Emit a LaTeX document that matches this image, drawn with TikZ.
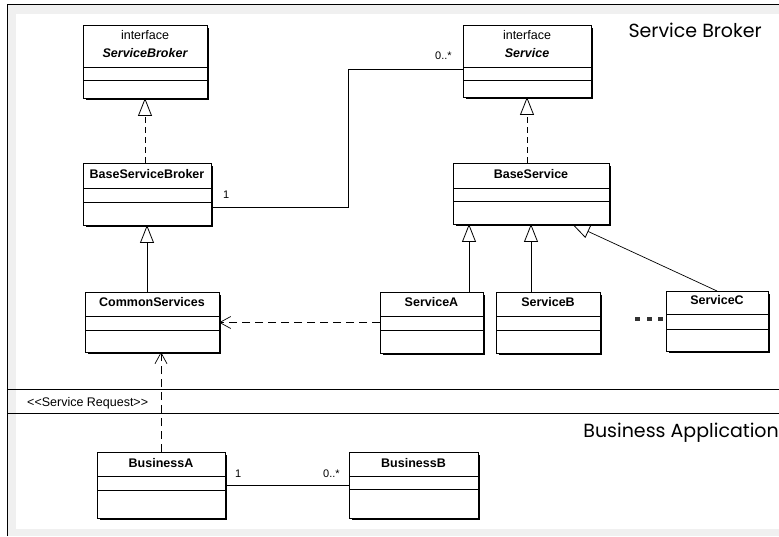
\documentclass[tikz,border=0pt]{standalone}
\usepackage{fontspec}
\setmainfont{Liberation Sans}
\newfontfamily\titlefont{Poppins}
\usetikzlibrary{arrows.meta,calc}

\newcommand\umlclass[8]{% #1 name, #2 x1, #3 y1, #4 x2, #5 y2, #6 div1, #7 div2, #8 title
  \node[umlbox, minimum width={(#4-#2)*1pt}, minimum height={(#5-#3)*1pt}] (#1) at ({(#2+#4)/2},{(#3+#5)/2}) {};
  \draw[shadowline] ($(#1.north east)+(1.2,3)$) -- ($(#1.south east)+(1.2,1.2)$) -- ($(#1.south west)+(3,1.2)$);
  \draw[divline] (#2,#6) -- (#4,#6);
  \draw[divline] (#2,#7) -- (#4,#7);
  \node[boxtext, anchor=base] (#1-title) at ({(#2+#4)/2},#6-9) {#8};
}

\begin{document}
\begin{tikzpicture}[x=1pt,y=-1pt,
  umlbox/.style={draw, line width=0.7pt, inner sep=0pt, outer sep=0pt, fill=white},
  divline/.style={line width=0.7pt},
  shadowline/.style={line width=1.3pt},
  boxtext/.style={inner sep=0pt, font=\fontsize{12.5}{14}\selectfont\bfseries},
  plaintext/.style={inner sep=0pt, font=\fontsize{12.5}{14}\selectfont},
  multtext/.style={inner sep=0pt, font=\fontsize{11}{13}\selectfont, anchor=base west},
  realize/.style={line width=0.7pt, dash pattern=on 6pt off 4pt, -{Triangle[open,length=18pt,width=14pt,line width=0.8pt]}},
  general/.style={line width=0.7pt, -{Triangle[open,length=18pt,width=14pt,line width=0.8pt]}},
  depend/.style={line width=0.7pt, dash pattern=on 8pt off 5pt, -{Straight Barb[length=11pt,width=12pt]}},
  assoc/.style={line width=0.7pt},
  band/.style={fill=gray!12},
  frameline/.style={line width=1pt},
  sepline/.style={line width=0.8pt},
  title/.style={inner sep=0pt, font=\titlefont\fontsize{19}{21}\selectfont, anchor=base east},
  dotsq/.style={fill=black!80}
]
\useasboundingbox (0,0) rectangle (779,537);
% frame and textured border
\fill[band] (7,5) rectangle (779,14);
\fill[band] (7,5) rectangle (16,535);
\fill[band] (7,529) rectangle (779,536);
\draw[frameline] (7,536) -- (7,5) -- (779,5);

% section separators
\draw[sepline] (7,389) -- (779,389);
\draw[sepline] (7,413) -- (779,413);
\node[plaintext, anchor=base west] (req) at (27,406) {{<}{<}Service Request{>}{>}};

% titles
\node[title] (t1) at (762,38) {Service Broker};
\node[title] (t2) at (779,437) {Business Application};

% classes
\umlclass{sb}{83}{25}{207}{98}{67}{80}{\itshape ServiceBroker}
\node[plaintext, anchor=base] (sb-st) at (145,40) {interface};
\umlclass{bsb}{83}{163}{211}{225}{188}{202}{BaseServiceBroker}
\umlclass{si}{463}{25}{591}{97}{67}{80}{\itshape Service}
\node[plaintext, anchor=base] (si-st) at (527,40) {interface};
\umlclass{bs}{453}{163}{609}{224}{188}{201}{BaseService}
\umlclass{cs}{85}{292}{219}{352}{316}{330}{CommonServices}
\umlclass{sa}{380}{292}{483}{353}{316}{330}{ServiceA}
\umlclass{sbb}{496}{292}{600}{353}{316}{330}{ServiceB}
\umlclass{sc}{666}{291}{768}{351}{314}{329}{ServiceC}
\umlclass{ba}{97}{452}{225}{518}{476}{490}{BusinessA}
\umlclass{bb}{349}{452}{478}{518}{476}{489}{BusinessB}

% ellipsis dots
\fill[dotsq] (635,317) rectangle (639.5,321.5);
\fill[dotsq] (647,317) rectangle (651.5,321.5);
\fill[dotsq] (658,317) rectangle (662.5,321.5);

% realizations
\draw[realize] (bsb.north -| sb.south) -- (sb.south);
\draw[realize] (bs.north -| si.south) -- (si.south);

% generalizations
\draw[general] (cs.north -| bsb.south) -- (bsb.south);
\coordinate (saTop) at ($(sa.north east)+(-14,0)$);
\draw[general] (saTop) -- (saTop |- bs.south);
\draw[general] (sbb.north -| bs.south) -- (bs.south);
\draw[general] (sc.north) -- ($(bs.south east)+(-37,0)$);

% dependencies
\draw[depend] (sa.west) -- (sa.west -| cs.east);
\draw[depend] (ba.north) -- (ba.north |- cs.south);

% associations
\coordinate (aStart) at ($(bsb.south east)+(0,-18)$);
\coordinate (aEnd) at ($(si.south west)+(0,-28)$);
\coordinate (bend) at (348,69);
\draw[assoc] (aStart) -| (bend) -- (aEnd);
\node[multtext] (m1) at (223,199) {1};
\node[multtext] (m2) at (435,60) {0..*};

\draw[assoc] (ba.east) -- (bb.west);
\node[multtext] (m3) at (235,477) {1};
\node[multtext] (m4) at (323,477) {0..*};
\end{tikzpicture}
\end{document}
